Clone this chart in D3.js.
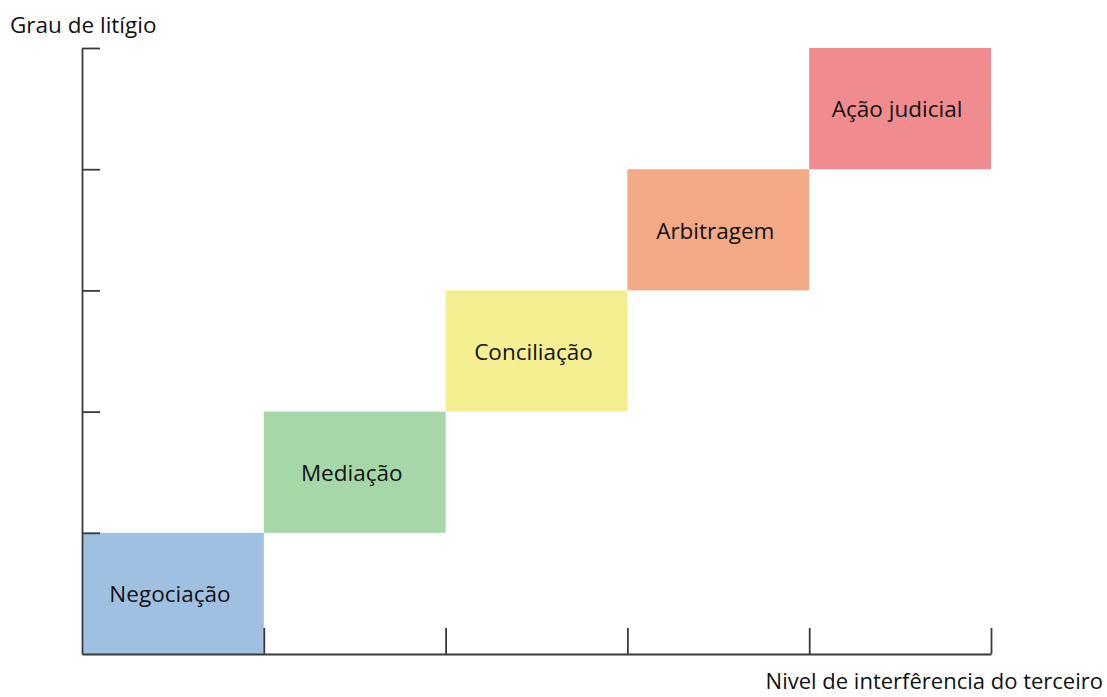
<!DOCTYPE html>
<html><head><meta charset="utf-8">
<script src="https://cdn.jsdelivr.net/npm/d3@7"></script>
<style>body{margin:0;background:#fff;} svg{display:block;}</style>
</head><body>
<svg id="c" width="1107" height="697"></svg>
<script>
const categories = ["Negociação","Mediação","Conciliação","Arbitragem","Ação judicial"];
const levels = [1,2,3,4,5];
const colors = ["#a0c0e2","#a6d7a8","#f4ef90","#f4aa86","#f08b8f"];
const xTicks = [1,2,3,4,5];
const yTicks = [1,2,3,4,5];
const yTitle = "Grau de litígio";
const xTitle = "Nivel de interfêrencia do terceiro";

const svg = d3.select("#c");
const x = d3.scaleLinear().domain([0,5]).range([82,991]);
const y = d3.scaleLinear().domain([0,5]).range([654,48]);
const font = "'Open Sans', sans-serif";

const data = categories.map((c,i)=>({name:c, level:levels[i], color:colors[i], i}));

svg.selectAll("rect.box").data(data).join("rect")
  .attr("class","box")
  .attr("x", d=>x(d.i))
  .attr("width", d=>x(d.i+1)-x(d.i))
  .attr("y", d=>y(d.level))
  .attr("height", d=>y(d.level-1)-y(d.level))
  .attr("fill", d=>d.color);

svg.selectAll("text.lbl").data(data).join("text")
  .attr("class","lbl")
  .attr("x", d=>(x(d.i)+x(d.i+1))/2 - 3)
  .attr("y", d=>(y(d.level)+y(d.level-1))/2 + 1)
  .attr("dy","0.35em")
  .attr("text-anchor","middle")
  .attr("font-family",font)
  .attr("font-size",22.5)
  .attr("fill","#111")
  .text(d=>d.name);

const yAxis = svg.append("g").attr("transform","translate(82,0)")
  .call(d3.axisLeft(y).tickValues(yTicks).tickSizeInner(-18).tickSizeOuter(0).tickFormat(""));
const xAxis = svg.append("g").attr("transform","translate(0,654)")
  .call(d3.axisBottom(x).tickValues(xTicks).tickSizeInner(-26).tickSizeOuter(0).tickFormat(""));
[yAxis,xAxis].forEach(a=>{
  a.selectAll("path,line").attr("stroke","#3a3a3a").attr("stroke-width",1.8);
});

svg.append("text").attr("x",10).attr("y",33)
  .attr("font-family",font).attr("font-size",22.5).attr("fill","#111")
  .text(yTitle);
svg.append("text").attr("x",1103).attr("y",689).attr("text-anchor","end")
  .attr("font-family",font).attr("font-size",22).attr("fill","#111")
  .text(xTitle);
</script>
</body></html>
